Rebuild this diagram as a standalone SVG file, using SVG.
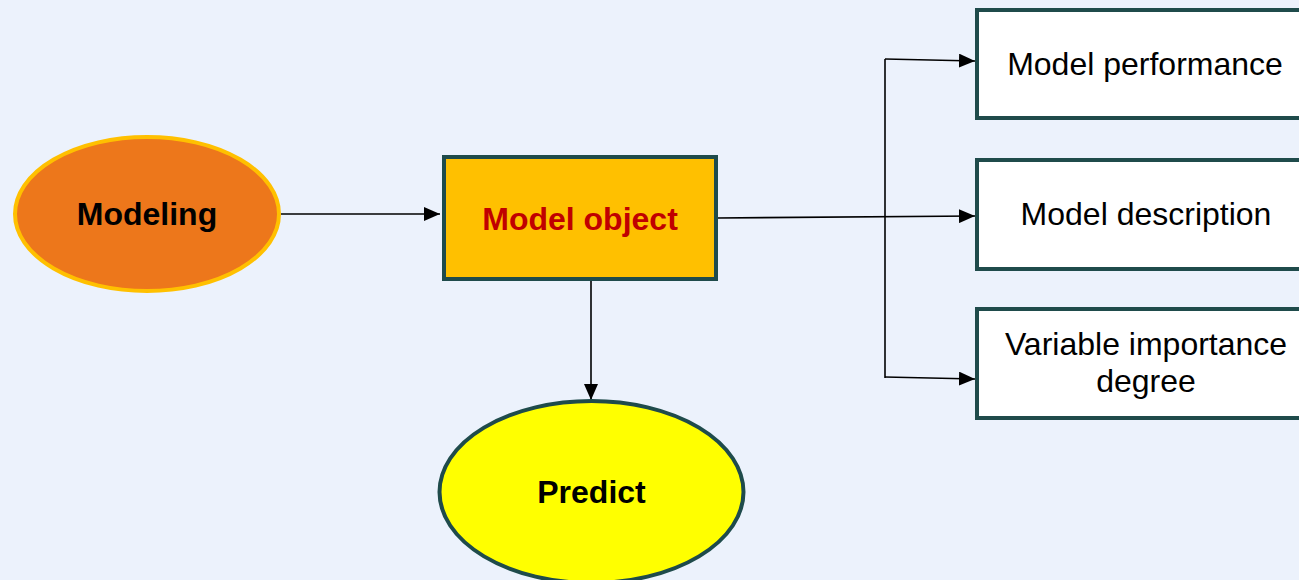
<svg xmlns="http://www.w3.org/2000/svg" width="1299" height="580" viewBox="0 0 1299 580">
<style>
.bg{fill:#ECF2FC}
.box{fill:#FFFFFF;stroke:#1F4B4B;stroke-width:4}
.lbl{font-family:"Liberation Sans",Arial,sans-serif;font-size:32px;fill:#000;text-anchor:middle}
.bold{font-weight:bold}
.conn{fill:none;stroke:#000;stroke-width:1.6}
</style>
<defs>
<marker id="arr" markerWidth="16" markerHeight="14" refX="16" refY="7" orient="auto" markerUnits="userSpaceOnUse">
<path d="M0,0 L16,7 L0,14 Z" fill="#000"/>
</marker>
</defs>
<rect class="bg" x="0" y="0" width="1299" height="580"/>
<g id="connectors">
<line class="conn" x1="281" y1="214" x2="440" y2="214" marker-end="url(#arr)"/>
<line class="conn" x1="717" y1="218" x2="975" y2="216" marker-end="url(#arr)"/>
<polyline class="conn" points="885,378 885,59"/>
<line class="conn" x1="885" y1="59" x2="975" y2="61" marker-end="url(#arr)"/>
<line class="conn" x1="885" y1="377" x2="975" y2="379" marker-end="url(#arr)"/>
<line class="conn" x1="591" y1="280" x2="591" y2="400" marker-end="url(#arr)"/>
</g>
<g id="modeling">
<ellipse cx="147" cy="214" rx="132" ry="77" fill="#ED771B" stroke="#FFC000" stroke-width="4"/>
<text class="lbl bold" x="147" y="225">Modeling</text>
</g>
<g id="model-object">
<rect x="444" y="157" width="272" height="122" fill="#FFC000" stroke="#1F4B4B" stroke-width="4"/>
<text class="lbl bold" x="580" y="230" style="fill:#C00000">Model object</text>
</g>
<g id="predict">
<ellipse cx="591.5" cy="492" rx="152" ry="91" fill="#FFFF00" stroke="#1F4B4B" stroke-width="4"/>
<text class="lbl bold" x="591.5" y="503">Predict</text>
</g>
<g id="model-performance">
<rect class="box" x="977" y="10" width="336" height="108"/>
<text class="lbl" x="1145" y="75">Model performance</text>
</g>
<g id="model-description">
<rect class="box" x="977" y="160" width="336" height="109"/>
<text class="lbl" x="1146" y="225">Model description</text>
</g>
<g id="variable-importance">
<rect class="box" x="977" y="309" width="336" height="109"/>
<text class="lbl" x="1146" y="355">Variable importance</text>
<text class="lbl" x="1146" y="392">degree</text>
</g>
</svg>
